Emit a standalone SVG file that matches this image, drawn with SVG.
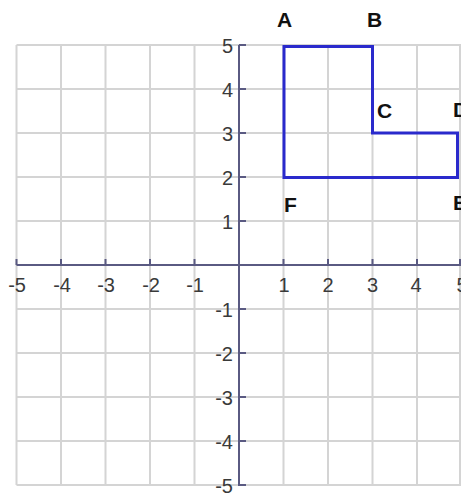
<svg xmlns="http://www.w3.org/2000/svg" width="461" height="495" viewBox="0 0 461 495">
<style>
.grid{stroke:#d4d4d4;stroke-width:2;fill:none}
.axis{stroke:#5a5a82;stroke-width:2;fill:none}
.num{font-family:"Liberation Sans",Arial,sans-serif;font-size:20px;fill:#3a3a3a}
.xl{text-anchor:middle}
.yl{text-anchor:end}
.pt{font-family:"Liberation Sans",Arial,sans-serif;font-size:21px;font-weight:bold;fill:#111}
.shape{stroke:#2a2acc;stroke-width:3;fill:none;stroke-linejoin:miter}
</style>
<rect width="461" height="495" fill="#fff"/>
<g id="grid" class="grid">
<path d="M16.5 45V485M61 45V485M105.5 45V485M150 45V485M194.5 45V485M283.5 45V485M328 45V485M372.5 45V485M417 45V485M460 45V485"/>
<path d="M16.5 45H461M16.5 89H461M16.5 133H461M16.5 177H461M16.5 221H461M16.5 309H461M16.5 353H461M16.5 397H461M16.5 441H461M16.5 485H461"/>
</g>
<g id="axes" class="axis">
<path d="M16.5 265H461M239 45V486"/>
<path d="M16.5 259V265M61 259V265M105.5 259V265M150 259V265M194.5 259V265M283.5 259V265M328 259V265M372.5 259V265M417 259V265M460 259V265"/>
<path d="M239 45H246M239 89H246M239 133H246M239 177H246M239 221H246M239 309H246M239 353H246M239 397H246M239 441H246M239 485H246"/>
</g>
<g id="xlabels" class="num yl">
<text x="26" y="292">-5</text>
<text x="71" y="292">-4</text>
<text x="115" y="292">-3</text>
<text x="160" y="292">-2</text>
<text x="204" y="292">-1</text>
</g>
<g id="xlabels2" class="num xl">
<text x="284" y="292">1</text>
<text x="328" y="292">2</text>
<text x="372.5" y="292">3</text>
<text x="416" y="292">4</text>
<text x="462" y="292">5</text>
</g>
<g id="ylabels" class="num yl">
<text x="233" y="53">5</text>
<text x="233" y="97">4</text>
<text x="233" y="141">3</text>
<text x="233" y="185">2</text>
<text x="233" y="229">1</text>
<text x="233" y="317">-1</text>
<text x="233" y="361">-2</text>
<text x="233" y="405">-3</text>
<text x="233" y="449">-4</text>
<text x="233" y="493">-5</text>
</g>
<g id="shape">
<path class="shape" d="M284 46.5H372.5V133H457.5V177.5H284Z"/>
</g>
<g id="labels" class="pt">
<text x="277" y="27">A</text>
<text x="367" y="27">B</text>
<text x="377" y="118">C</text>
<text x="453" y="117">D</text>
<text x="453" y="210">E</text>
<text x="284" y="212">F</text>
</g>
</svg>
